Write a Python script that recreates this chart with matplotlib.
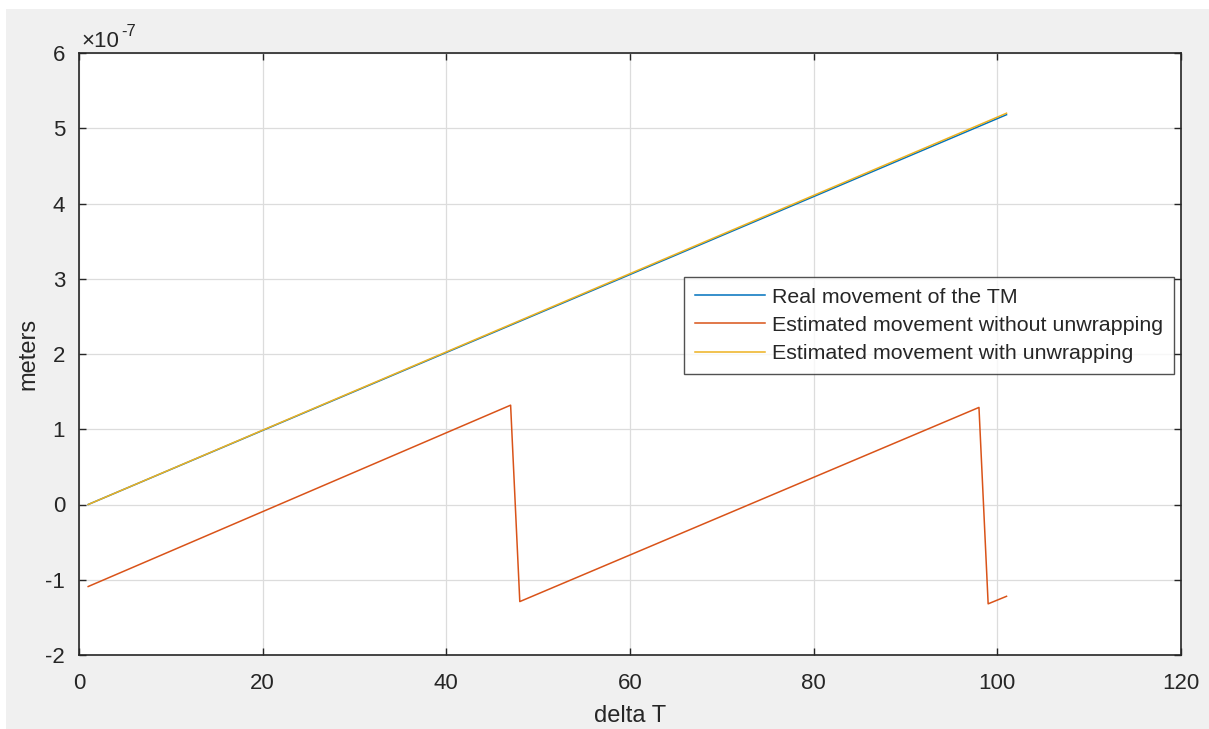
import matplotlib.pyplot as plt
from matplotlib.patches import Rectangle
from matplotlib.ticker import FuncFormatter

# data (meters vs delta T)
real_x = [1, 101]
real_y = [0.0, 5.18e-7]

unwrapped_x = [1, 101]
unwrapped_y = [0.0, 5.20e-7]

wrapped_x = [1, 47, 48, 98, 99, 101]
wrapped_y = [-1.09e-7, 1.32e-7, -1.29e-7, 1.29e-7, -1.32e-7, -1.22e-7]

labels = ['Real movement of the TM',
          'Estimated movement without unwrapping',
          'Estimated movement with unwrapping']
colors = ['#0072BD', '#D95319', '#EDB120']

plt.rcParams['font.family'] = ['Liberation Sans', 'DejaVu Sans']
plt.rcParams['axes.unicode_minus'] = False

W, H = 1209, 729
txt = '#262626'
fig = plt.figure(figsize=(W / 100, H / 100), dpi=100)
fig.patch.set_facecolor('white')
# gray MATLAB figure area, white strip on top/left
fig.patches.append(Rectangle((6 / W, 0), 1, 1 - 9 / H, transform=fig.transFigure,
                             facecolor='#f0f0f0', edgecolor='none', zorder=-10))

ax = fig.add_axes([79 / W, 1 - 655 / H, (1181 - 79) / W, (655 - 53) / H])
ax.set_facecolor('white')

ax.plot(real_x, real_y, color=colors[0], lw=1.1, label=labels[0])
ax.plot(wrapped_x, wrapped_y, color=colors[1], lw=1.1, label=labels[1])
ax.plot(unwrapped_x, unwrapped_y, color=colors[2], lw=1.1, label=labels[2])

ax.set_xlim(0, 120)
ax.set_ylim(-2e-7, 6e-7)
ax.set_xticks(range(0, 121, 20))
ax.set_yticks([i * 1e-7 for i in range(-2, 7)])
ax.yaxis.set_major_formatter(FuncFormatter(lambda v, p: '%d' % round(v / 1e-7)))

# MATLAB style exponent label
fig.text(81 / W, 1 - 47 / H, '\u00d710', fontsize=16, color=txt, ha='left', va='baseline')
fig.text(121 / W, 1 - 36 / H, '-7', fontsize=12, color=txt, ha='left', va='baseline')

ax.grid(True, color='#dcdcdc', lw=0.9)
ax.set_axisbelow(True)
for s in ax.spines.values():
    s.set_color(txt)
    s.set_linewidth(1.2)
ax.tick_params(direction='in', top=True, right=True, length=5, width=1,
               colors=txt, labelsize=16)
ax.tick_params(axis='x', pad=13)
ax.tick_params(axis='y', pad=10)

ax.set_xlabel('delta T', fontsize=17, color=txt, labelpad=8)
ax.set_ylabel('meters', fontsize=17, color=txt, labelpad=4)

leg = ax.legend(loc='upper left', bbox_to_anchor=(0.549, 0.628), fontsize=15.4,
                frameon=True, fancybox=False, edgecolor=txt,
                handlelength=3.3, handletextpad=0.33, borderpad=0.5,
                labelspacing=0.43, borderaxespad=0)
leg.get_frame().set_linewidth(1.0)
for t in leg.get_texts():
    t.set_color(txt)

fig.savefig('out.png', dpi=100, facecolor=fig.get_facecolor())
